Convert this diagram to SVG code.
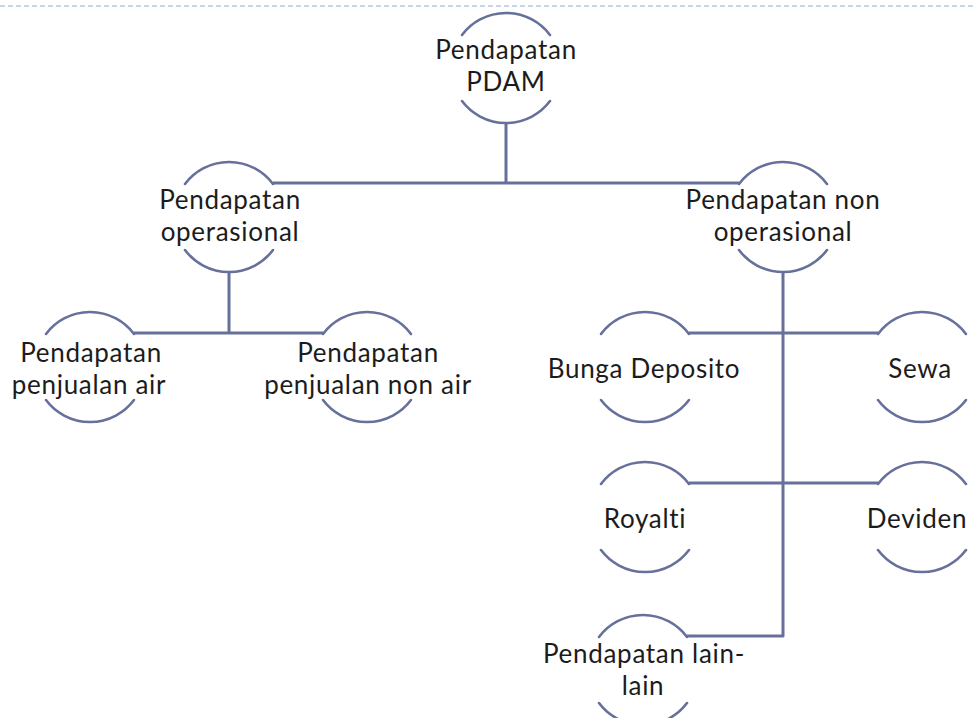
<svg xmlns="http://www.w3.org/2000/svg" xmlns:xlink="http://www.w3.org/1999/xlink" width="974" height="718" viewBox="0 0 974 718">
  <style>
    .ring { fill: none; stroke: #66709a; stroke-width: 2.6; stroke-linecap: round; }
    .wire { fill: none; stroke: #66709a; stroke-width: 3; stroke-linejoin: round; }
    .label { font-family: Lato, "Liberation Sans", sans-serif; font-size: 26px; letter-spacing: 0.7px; fill: #1c1c1c; text-anchor: middle; }
    .rule { stroke: #c7d6e8; stroke-width: 2; stroke-dasharray: 5 3; }
  </style>
  <defs>
    <!-- upper and lower arcs of a node circle, centred on 0,0 -->
    <path id="ring" class="ring" d="M-44,-33 A55,55 0 0 1 44,-33 M-44,33 A55,55 0 0 0 44,33"/>
  </defs>

  <rect width="974" height="718" fill="#ffffff"/>
  <line class="rule" x1="0" y1="6" x2="974" y2="6"/>

  <g id="connectors">
    <path class="wire" d="M506,123 V183"/>
    <path class="wire" d="M273,183 H739"/>
    <path class="wire" d="M229,272 V333"/>
    <path class="wire" d="M134,333 H323"/>
    <path class="wire" d="M783,272 V636 H687"/>
    <path class="wire" d="M689,333 H878"/>
    <path class="wire" d="M689,483 H878"/>
  </g>

  <g id="pendapatan-pdam">
    <use xlink:href="#ring" x="506" y="68"/>
    <text class="label" x="506" y="59">Pendapatan</text>
    <text class="label" x="506" y="91">PDAM</text>
  </g>

  <g id="pendapatan-operasional">
    <use xlink:href="#ring" x="229" y="217"/>
    <text class="label" x="230" y="209">Pendapatan</text>
    <text class="label" x="230" y="241">operasional</text>
  </g>

  <g id="pendapatan-non-operasional">
    <use xlink:href="#ring" x="783" y="217"/>
    <text class="label" x="783" y="209">Pendapatan non</text>
    <text class="label" x="783" y="241">operasional</text>
  </g>

  <g id="penjualan-air">
    <use xlink:href="#ring" x="90" y="367"/>
    <text class="label" x="91" y="362">Pendapatan</text>
    <text class="label" x="89" y="394">penjualan air</text>
  </g>

  <g id="penjualan-non-air">
    <use xlink:href="#ring" x="367" y="367"/>
    <text class="label" x="368" y="362">Pendapatan</text>
    <text class="label" x="368" y="394">penjualan non air</text>
  </g>

  <g id="bunga-deposito">
    <use xlink:href="#ring" x="645" y="367"/>
    <text class="label" x="644" y="378">Bunga Deposito</text>
  </g>

  <g id="sewa">
    <use xlink:href="#ring" x="922" y="367"/>
    <text class="label" x="920" y="378">Sewa</text>
  </g>

  <g id="royalti">
    <use xlink:href="#ring" x="645" y="517"/>
    <text class="label" x="645" y="528">Royalti</text>
  </g>

  <g id="deviden">
    <use xlink:href="#ring" x="922" y="517"/>
    <text class="label" x="917" y="528">Deviden</text>
  </g>

  <g id="pendapatan-lain-lain">
    <use xlink:href="#ring" x="643" y="670"/>
    <text class="label" x="644" y="663">Pendapatan lain-</text>
    <text class="label" x="643" y="695">lain</text>
  </g>
</svg>
